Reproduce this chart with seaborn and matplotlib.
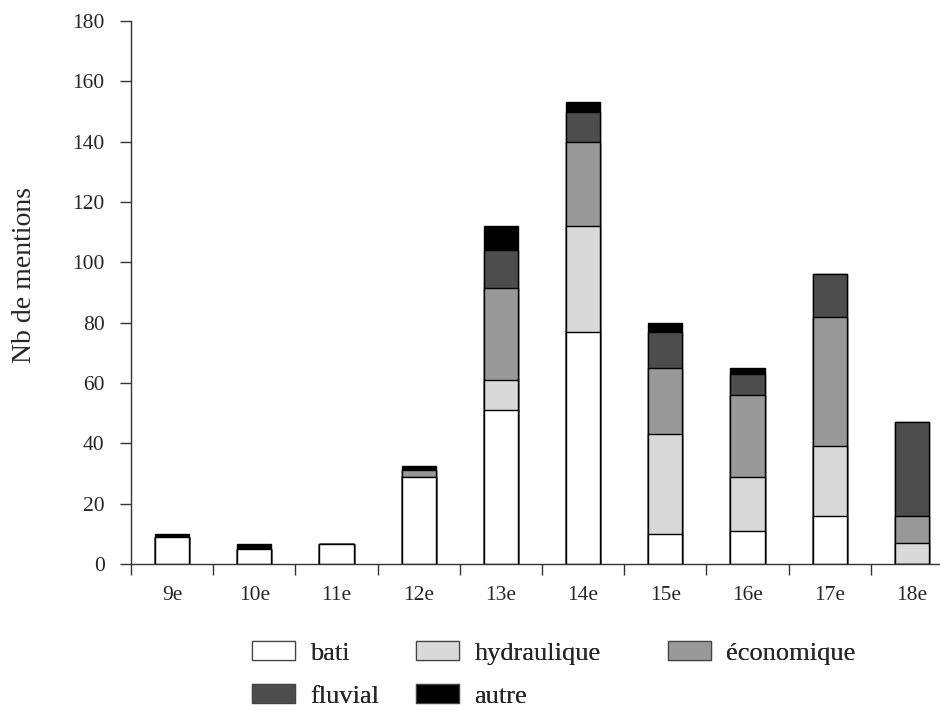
import matplotlib
matplotlib.use("Agg")
import matplotlib.pyplot as plt
from matplotlib.patches import Patch
from matplotlib.ticker import FixedLocator
import numpy as np
import seaborn as sns

siecles = ["9e", "10e", "11e", "12e", "13e", "14e", "15e", "16e", "17e", "18e"]
bati = [9, 5, 6.5, 29, 51, 77, 10, 11, 16, 0]
hydraulique = [0, 0, 0, 0, 10, 35, 33, 18, 23, 7]
economique = [0, 0, 0, 2, 30.5, 28, 22, 27, 43, 9]
fluvial = [0, 0, 0, 0, 12.5, 10, 12, 7, 14, 31]
autre = [1, 1.5, 0, 1.5, 8, 3, 3, 2, 0, 0]

series_names = ["bati", "hydraulique", "économique", "fluvial", "autre"]
series = [bati, hydraulique, economique, fluvial, autre]
colors = ["#ffffff", "#d9d9d9", "#999999", "#4d4d4d", "#000000"]
yticks = list(range(0, 181, 20))

sns.set_theme(style="white")
plt.rcParams["font.family"] = ["Liberation Serif", "DejaVu Serif"]

fig = plt.figure(figsize=(9.40, 7.11), dpi=100)
ax = fig.add_axes([131 / 940, (711 - 564) / 711, 822 / 940, 543 / 711])

cum = np.cumsum(np.array(series, dtype=float), axis=0)
for i in range(len(series) - 1, -1, -1):
    sns.barplot(x=siecles, y=cum[i], color=colors[i], saturation=1,
                width=0.414, edgecolor="black", linewidth=1.0, ax=ax,
                order=siecles)

ax.set_ylim(0, 180)
ax.set_xlim(-0.5, len(siecles) - 0.5)
ax.set_yticks(yticks)
ax.set_yticklabels([str(v) for v in yticks], fontsize=15.5)
ax.xaxis.set_minor_locator(FixedLocator(np.arange(-0.5, len(siecles), 1.0)))
ax.tick_params(axis="x", which="major", length=0, pad=16, labelsize=15.5)
ax.tick_params(axis="x", which="minor", length=8, width=1, color="#333333", direction="out", bottom=True)
ax.tick_params(axis="y", which="major", length=8, width=1, color="#333333", direction="out", left=True, pad=11)
for s in ["top", "right"]:
    ax.spines[s].set_visible(False)
for s in ["left", "bottom"]:
    ax.spines[s].set_color("#333333")
    ax.spines[s].set_linewidth(1)
ax.set_xlabel("")
ax.set_ylabel("Nb de mentions", fontsize=20)
ax.yaxis.set_label_coords((37 - 131) / 822, (564 - 275) / 543)

handles = [Patch(facecolor=c, edgecolor="#444444", linewidth=0.9) for c in colors]
legend_cols = [([0, 3], 252), ([1, 4], 416), ([2], 668)]
leg_kw = dict(loc="upper left", frameon=False, fontsize=19, ncol=1,
              handlelength=1.63, handleheight=0.74, handletextpad=0.58,
              labelspacing=0.74, borderaxespad=0, borderpad=0)
for idx, xpix in legend_cols:
    leg = fig.legend([handles[k] for k in idx], [series_names[k] for k in idx],
                     bbox_to_anchor=(xpix / 940, 1 - 641 / 711), **leg_kw)
    fig.add_artist(leg)

fig.savefig("out.png", dpi=100)
